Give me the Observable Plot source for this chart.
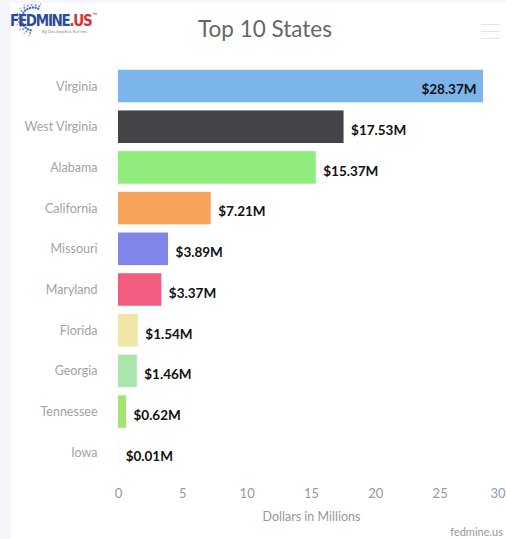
<!DOCTYPE html>
<html><head><meta charset="utf-8">
<script src="https://cdn.jsdelivr.net/npm/d3@7"></script>
<script src="https://cdn.jsdelivr.net/npm/@observablehq/plot@0.6"></script>
<style>
html,body{margin:0;padding:0;background:#f4f6fb;width:506px;height:539px;overflow:hidden;}
#card{position:absolute;left:11px;top:3px;width:495px;height:536px;background:#fff;}
#title{position:absolute;left:104px;width:300px;top:15px;text-align:center;font:22.5px Lato;line-height:22px;color:#666;}
#chart{position:absolute;left:0;top:0;}
#credit{position:absolute;right:3px;top:522px;font:11px Lato;color:#999;}
#menu{position:absolute;left:470px;top:21px;width:19px;}
#menu div{height:1px;background:#e4e4e4;margin-bottom:6px;}
#dots{position:absolute;left:0;top:0;}
#logoText{position:absolute;left:-1px;top:9px;font:bold 15px "DejaVu Sans Condensed","DejaVu Sans";font-stretch:condensed;letter-spacing:-1.3px;color:#2b4d9c;white-space:nowrap;}
#logoText span{color:#d8312e;}
#logoText sup{font-size:3px;color:#888;vertical-align:top;letter-spacing:0;margin-left:1px;}
#tag{position:absolute;left:31px;top:27px;font:3.5px Lato;color:#888;white-space:nowrap;}
</style></head>
<body>
<div id="card">
  <svg id="dots" width="60" height="40"></svg>
  <div id="logoText">FEDMINE<span>.US</span><sup>TM</sup></div>
  <div id="tag">Big Data Simplified. Real-time.</div>
  <div id="title">Top 10 States</div>
  <div id="menu"><div></div><div></div><div></div></div>
  <div id="chart"></div>
  <div id="credit">fedmine.us</div>
</div>
<script>
const states = ["Virginia","West Virginia","Alabama","California","Missouri","Maryland","Florida","Georgia","Tennessee","Iowa"];
const amounts = [28.37,17.53,15.37,7.21,3.89,3.37,1.54,1.46,0.62,0.01];
const valueLabels = ["$28.37M","$17.53M","$15.37M","$7.21M","$3.89M","$3.37M","$1.54M","$1.46M","$0.62M","$0.01M"];
const barColors = ["#7cb5ec","#434348","#90ed7d","#f7a35c","#8085e9","#f15c80","#f2e6a6","#abe5ab","#a6e26e","#91e8e1"];
const xTicks = [0,5,10,15,20,25];
const xLastTick = [30];
const xTitle = "Dollars in Millions";

const data = states.map((s,i)=>({state:s, amount:amounts[i], label:valueLabels[i]}));

// decorative logo dots (arc of dots behind the logo text)
(function(){
  const svg = document.getElementById("dots");
  let html = "";
  const cx0 = 22, cy0 = 16;
  const rows = [[11.5,1.25,"#3b5ca6"],[14.2,1.0,"#5577bb"],[16.8,0.8,"#7e98cc"]];
  rows.forEach(([rad, rr, col], ri) => {
    const n = 14 - ri*2;
    for (let k = 0; k <= n; k++) {
      const a = (63 + k*(195/n)) * Math.PI/180;
      const x = cx0 + rad*Math.cos(a), y = cy0 - rad*Math.sin(a);
      html += `<circle cx="${x.toFixed(2)}" cy="${y.toFixed(2)}" r="${rr}" fill="${col}" opacity="0.85"/>`;
    }
  });
  svg.innerHTML = html;
})();

const chart = Plot.plot({
  width: 495,
  height: 536,
  marginLeft: 107,
  marginRight: 2,
  marginTop: 58.6,
  marginBottom: 62.3,
  style: {fontFamily: "Lato", background: "transparent", overflow: "visible"},
  x: {domain: [0, 30]},
  y: {domain: states, padding: 0.2, round: false},
  color: {domain: states, range: barColors},
  marks: [
    Plot.axisX({ticks: xTicks, tickSize: 0, tickPadding: 12, fontSize: 13, fill: "#999", label: null}),
    Plot.axisX({ticks: xLastTick, tickSize: 0, tickPadding: 12, fontSize: 13, fill: "#999", label: null, textAnchor: "end", dx: 1}),
    Plot.axisY({tickSize: 0, tickPadding: 21, fontSize: 12.5, fill: "#a3a3a3", label: null}),
    Plot.barX(data, {x: "amount", y: "state", fill: "state"}),
    Plot.text(data.filter(d => d.amount > 25), {x: "amount", y: "state", text: "label", textAnchor: "end", dx: -7, dy: 3.5, fontSize: 13.5, fontWeight: "bold", fill: "#111"}),
    Plot.text(data.filter(d => d.amount <= 25), {x: "amount", y: "state", text: "label", textAnchor: "start", dx: 7, dy: 3.5, fontSize: 13.5, fontWeight: "bold", fill: "#111"}),
    Plot.text([xTitle], {frameAnchor: "bottom", dy: 39.3, lineAnchor: "middle", fontSize: 12.5, fill: "#999"})
  ]
});
document.getElementById("chart").appendChild(chart);
</script>
</body></html>
